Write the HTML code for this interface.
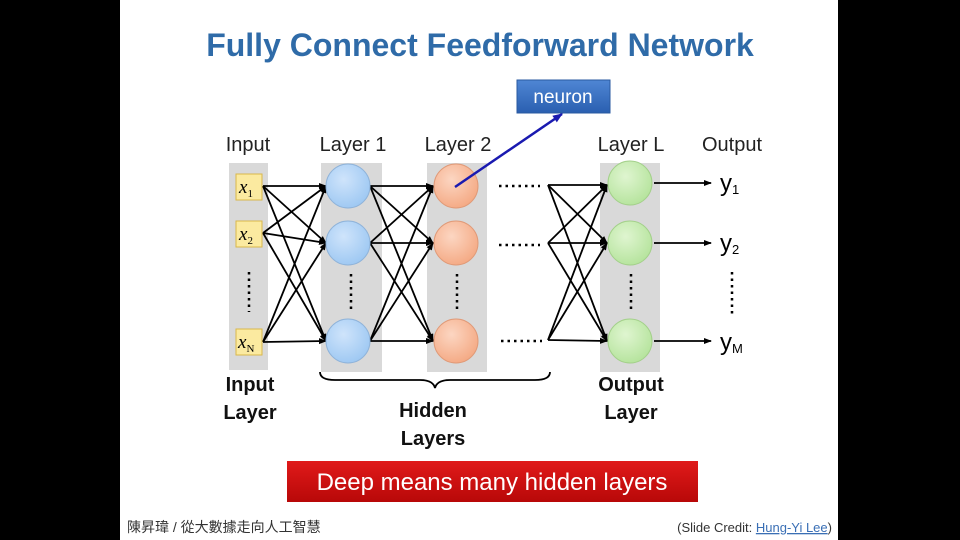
<!DOCTYPE html>
<html><head><meta charset="utf-8"><style>
html,body{margin:0;padding:0;background:#000;}
svg{display:block;}
text{font-family:"Liberation Sans","Noto Sans CJK TC",sans-serif;}
text.ser{font-family:"Liberation Serif",serif;font-style:italic;}
</style></head><body>
<svg width="960" height="540" viewBox="0 0 960 540" xmlns="http://www.w3.org/2000/svg">
<defs>
<marker id="a" markerWidth="8" markerHeight="8" refX="7" refY="4" orient="auto" markerUnits="userSpaceOnUse"><path d="M0,1 L8,4 L0,7 Z" fill="#000"/></marker>
<marker id="b" markerWidth="10" markerHeight="10" refX="9" refY="5" orient="auto" markerUnits="userSpaceOnUse"><path d="M0,1 L10,5 L0,9 Z" fill="#1a1ab0"/></marker>
<radialGradient id="bl" cx="40%" cy="35%" r="70%"><stop offset="0" stop-color="#cfe4fb"/><stop offset="1" stop-color="#9cc7f2"/></radialGradient>
<radialGradient id="or" cx="40%" cy="35%" r="70%"><stop offset="0" stop-color="#fcd6c2"/><stop offset="1" stop-color="#f4a882"/></radialGradient>
<radialGradient id="gr" cx="40%" cy="35%" r="70%"><stop offset="0" stop-color="#dff5d0"/><stop offset="1" stop-color="#b4e39b"/></radialGradient>
<linearGradient id="nb" x1="0" y1="0" x2="0" y2="1"><stop offset="0" stop-color="#4f86d4"/><stop offset="1" stop-color="#2a5fb0"/></linearGradient>
<linearGradient id="rd" x1="0" y1="0" x2="0" y2="1"><stop offset="0" stop-color="#e01a1a"/><stop offset="1" stop-color="#b80808"/></linearGradient>
</defs>
<rect x="120" y="0" width="718" height="540" fill="#fff"/>
<text x="480" y="56" text-anchor="middle" font-size="32" font-weight="bold" fill="#2f6ba8">Fully Connect Feedforward Network</text>
<rect x="517" y="80" width="93" height="33" fill="url(#nb)" stroke="#2a5aa0"/>
<text x="563" y="103" text-anchor="middle" font-size="19" fill="#fff">neuron</text>
<g font-size="20" fill="#222">
<text x="248" y="151" text-anchor="middle">Input</text>
<text x="353" y="151" text-anchor="middle">Layer 1</text>
<text x="458" y="151" text-anchor="middle">Layer 2</text>
<text x="631" y="151" text-anchor="middle">Layer L</text>
<text x="732" y="151" text-anchor="middle">Output</text>
</g>
<rect x="229" y="163" width="39" height="207" fill="#d9d9d9"/>
<rect x="321" y="163" width="61" height="209" fill="#d9d9d9"/>
<rect x="427" y="163" width="60" height="209" fill="#d9d9d9"/>
<rect x="600" y="163" width="60" height="209" fill="#d9d9d9"/>
<g stroke="#000" stroke-width="1.8" marker-end="url(#a)">
<line x1="263" y1="186" x2="326" y2="186"/><line x1="263" y1="186" x2="326" y2="243"/><line x1="263" y1="186" x2="326" y2="341"/>
<line x1="263" y1="233" x2="326" y2="186"/><line x1="263" y1="233" x2="326" y2="243"/><line x1="263" y1="233" x2="326" y2="341"/>
<line x1="263" y1="342" x2="326" y2="186"/><line x1="263" y1="342" x2="326" y2="243"/><line x1="263" y1="342" x2="326" y2="341"/>
<line x1="370" y1="186" x2="433" y2="186"/><line x1="370" y1="186" x2="433" y2="243"/><line x1="370" y1="186" x2="433" y2="341"/>
<line x1="370" y1="243" x2="433" y2="186"/><line x1="370" y1="243" x2="433" y2="243"/><line x1="370" y1="243" x2="433" y2="341"/>
<line x1="370" y1="341" x2="433" y2="186"/><line x1="370" y1="341" x2="433" y2="243"/><line x1="370" y1="341" x2="433" y2="341"/>
<line x1="548" y1="185" x2="607" y2="185"/><line x1="548" y1="185" x2="607" y2="243"/><line x1="548" y1="185" x2="607" y2="341"/>
<line x1="548" y1="243" x2="607" y2="185"/><line x1="548" y1="243" x2="607" y2="243"/><line x1="548" y1="243" x2="607" y2="341"/>
<line x1="548" y1="340" x2="607" y2="185"/><line x1="548" y1="340" x2="607" y2="243"/><line x1="548" y1="340" x2="607" y2="341"/>
<line x1="654" y1="183" x2="711" y2="183"/><line x1="654" y1="243" x2="711" y2="243"/><line x1="654" y1="341" x2="711" y2="341"/>
</g>
<g fill="#fbeaa0" stroke="#d9b84a">
<rect x="236" y="174" width="26" height="26"/><rect x="236" y="221" width="26" height="26"/><rect x="236" y="329" width="26" height="26"/>
</g>
<text class="ser" x="239" y="193" font-size="19">x<tspan font-size="11" font-style="normal" dy="4">1</tspan></text>
<text class="ser" x="239" y="240" font-size="19">x<tspan font-size="11" font-style="normal" dy="4">2</tspan></text>
<text class="ser" x="238" y="348" font-size="19">x<tspan font-size="11" font-style="normal" dy="4">N</tspan></text>
<g stroke="#8fb3d9" fill="url(#bl)"><circle cx="348" cy="186" r="22"/><circle cx="348" cy="243" r="22"/><circle cx="348" cy="341" r="22"/></g>
<g stroke="#e09a78" fill="url(#or)"><circle cx="456" cy="186" r="22"/><circle cx="456" cy="243" r="22"/><circle cx="456" cy="341" r="22"/></g>
<g stroke="#a3d08a" fill="url(#gr)"><circle cx="630" cy="183" r="22"/><circle cx="630" cy="243" r="22"/><circle cx="630" cy="341" r="22"/></g>
<g stroke="#000" stroke-width="2.5" stroke-dasharray="2.5,4">
<line x1="249" y1="272" x2="249" y2="312"/><line x1="351" y1="274" x2="351" y2="312"/><line x1="457" y1="274" x2="457" y2="312"/><line x1="631" y1="274" x2="631" y2="312"/><line x1="732" y1="272" x2="732" y2="316"/>
<line x1="499" y1="186" x2="540" y2="186"/><line x1="499" y1="245" x2="540" y2="245"/><line x1="501" y1="341" x2="542" y2="341"/>
</g>
<line x1="455" y1="187" x2="562" y2="114" stroke="#1a1ab0" stroke-width="2.5" marker-end="url(#b)"/>
<g font-size="24" fill="#000">
<text x="720" y="191">y<tspan font-size="13" dy="3">1</tspan></text>
<text x="720" y="251">y<tspan font-size="13" dy="3">2</tspan></text>
<text x="720" y="350">y<tspan font-size="13" dy="3">M</tspan></text>
</g>
<path d="M320,372 Q320,380 335,380 L420,380 Q433,380 435,388 Q437,380 450,380 L535,380 Q550,380 550,372" fill="none" stroke="#000" stroke-width="1.8"/>
<g font-size="20" font-weight="bold" fill="#111" text-anchor="middle">
<text x="250" y="391">Input</text><text x="250" y="419">Layer</text>
<text x="433" y="417">Hidden</text><text x="433" y="445">Layers</text>
<text x="631" y="391">Output</text><text x="631" y="419">Layer</text>
</g>
<rect x="287" y="461" width="411" height="41" fill="url(#rd)"/>
<text x="492" y="490" text-anchor="middle" font-size="24" fill="#fff">Deep means many hidden layers</text>
<text x="127" y="532" font-size="14" fill="#333">陳昇瑋 / 從大數據走向人工智慧</text>
<text x="832" y="532" font-size="13" fill="#333" text-anchor="end">(Slide Credit: <tspan fill="#3a6fb5" text-decoration="underline">Hung-Yi Lee</tspan>)</text>
</svg>
</body></html>
